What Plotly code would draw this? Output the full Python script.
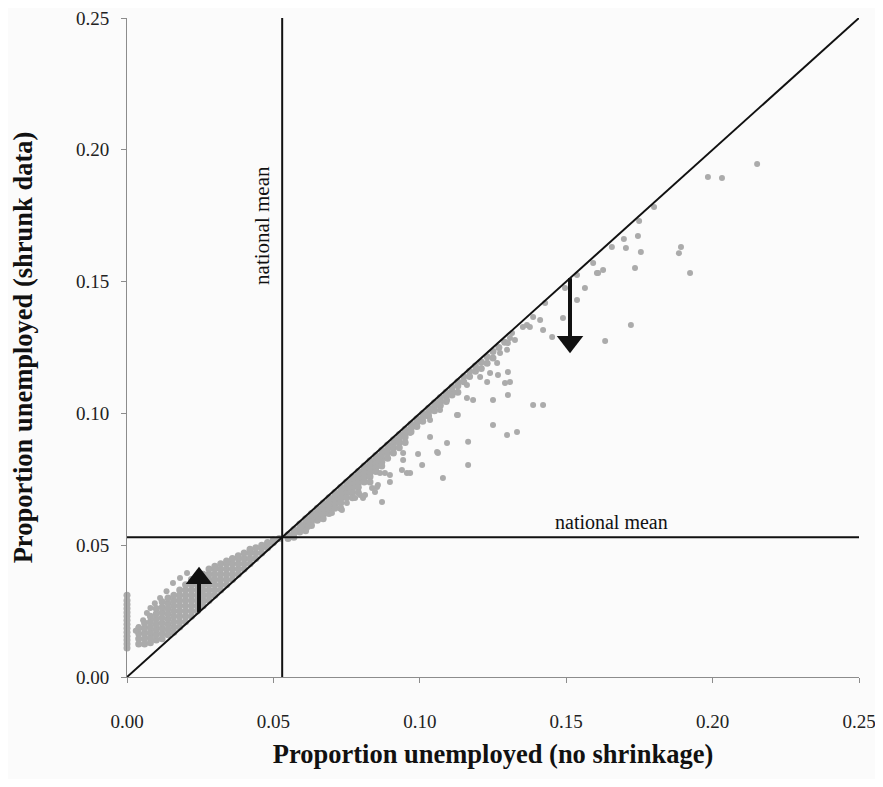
import plotly.graph_objects as go

# ---------------- data ----------------
NATIONAL_MEAN = 0.053

# points sitting on the y axis (x ~ 0)
AXIS_COLUMN_Y = [0.011, 0.0125, 0.014, 0.0155, 0.017, 0.0185, 0.020, 0.0215,
                 0.023, 0.0245, 0.026, 0.0275, 0.029, 0.031]

# below-mean areas: columns of the dense band (x, [y values])
LOW_BAND = [
    (0.004, [0.0125, 0.0145, 0.0165, 0.0185]),
    (0.006, [0.0125, 0.0145, 0.0165, 0.0185, 0.0205]),
    (0.008, [0.013, 0.015, 0.017, 0.019, 0.021, 0.023]),
    (0.010, [0.014, 0.016, 0.018, 0.020, 0.022, 0.024, 0.026]),
    (0.012, [0.0145, 0.0165, 0.0185, 0.0205, 0.0225, 0.0245, 0.0265, 0.0285]),
    (0.014, [0.016, 0.018, 0.020, 0.022, 0.024, 0.026, 0.028, 0.030]),
    (0.016, [0.017, 0.019, 0.021, 0.023, 0.025, 0.027, 0.029, 0.031]),
    (0.018, [0.019, 0.021, 0.023, 0.025, 0.027, 0.029, 0.031, 0.033]),
    (0.020, [0.021, 0.023, 0.025, 0.027, 0.029, 0.031, 0.033, 0.035]),
    (0.022, [0.023, 0.025, 0.027, 0.029, 0.031, 0.033, 0.035, 0.037]),
    (0.024, [0.025, 0.027, 0.029, 0.031, 0.033, 0.035, 0.037, 0.0385]),
    (0.026, [0.027, 0.029, 0.031, 0.033, 0.035, 0.037, 0.039]),
    (0.028, [0.029, 0.031, 0.033, 0.035, 0.037, 0.039, 0.041]),
    (0.030, [0.031, 0.033, 0.035, 0.037, 0.039, 0.041, 0.042]),
    (0.032, [0.033, 0.035, 0.037, 0.039, 0.041, 0.043]),
    (0.034, [0.035, 0.037, 0.039, 0.041, 0.043, 0.044]),
    (0.036, [0.037, 0.039, 0.041, 0.043, 0.045]),
    (0.038, [0.039, 0.041, 0.043, 0.045, 0.046]),
    (0.040, [0.041, 0.043, 0.045, 0.047]),
    (0.042, [0.043, 0.045, 0.047, 0.0485]),
    (0.044, [0.045, 0.047, 0.049]),
    (0.046, [0.047, 0.049, 0.050]),
    (0.048, [0.049, 0.0505, 0.051]),
    (0.050, [0.051, 0.052]),
    (0.052, [0.0525]),
]

# the looser outer edge of the below-mean cloud
LOW_EDGE_X = [0.003, 0.004, 0.0055, 0.0068, 0.008, 0.0095, 0.0113, 0.0135, 0.0157, 0.0181, 0.0205]
LOW_EDGE_Y = [0.0175, 0.019, 0.0215, 0.0243, 0.0262, 0.028, 0.030, 0.0325, 0.0357, 0.0376, 0.0395]

# above-mean areas: columns of the dense band just under the diagonal
HIGH_BAND = [
    (0.055, [0.054, 0.0525]),
    (0.057, [0.056, 0.0545, 0.053]),
    (0.059, [0.058, 0.0565, 0.055]),
    (0.061, [0.060, 0.0585, 0.057, 0.0555]),
    (0.063, [0.062, 0.0605, 0.059, 0.0575]),
    (0.065, [0.064, 0.0625, 0.061, 0.0595]),
    (0.067, [0.066, 0.0645, 0.063, 0.0615, 0.060]),
    (0.069, [0.068, 0.0665, 0.065, 0.0635, 0.062]),
    (0.071, [0.070, 0.0685, 0.067, 0.0655, 0.064]),
    (0.073, [0.072, 0.0705, 0.069, 0.0675, 0.066, 0.064]),
    (0.075, [0.074, 0.0725, 0.071, 0.0695, 0.068]),
    (0.077, [0.076, 0.0745, 0.073, 0.0715, 0.070, 0.068]),
    (0.079, [0.078, 0.0765, 0.075, 0.0735, 0.072, 0.070]),
    (0.081, [0.080, 0.0785, 0.077, 0.0755, 0.074]),
    (0.083, [0.082, 0.0805, 0.079, 0.0775, 0.076, 0.074]),
    (0.085, [0.084, 0.0825, 0.081, 0.0795, 0.078]),
    (0.087, [0.086, 0.0845, 0.083, 0.0815, 0.080]),
    (0.089, [0.088, 0.0865, 0.085, 0.083]),
    (0.091, [0.090, 0.0885, 0.087, 0.085]),
    (0.093, [0.092, 0.0905, 0.089, 0.087]),
    (0.095, [0.094, 0.0925, 0.091, 0.089]),
    (0.097, [0.096, 0.0945, 0.093]),
    (0.099, [0.098, 0.0965, 0.095]),
    (0.101, [0.100, 0.0985, 0.097]),
    (0.103, [0.102, 0.1005, 0.099]),
    (0.105, [0.104, 0.1025, 0.101]),
    (0.107, [0.106, 0.1045, 0.103]),
    (0.109, [0.108, 0.1065, 0.1045]),
    (0.111, [0.110, 0.1085, 0.107]),
    (0.113, [0.112, 0.1105, 0.108]),
    (0.115, [0.114, 0.112]),
    (0.117, [0.116, 0.114]),
    (0.119, [0.118, 0.116]),
    (0.121, [0.1195, 0.117]),
    (0.123, [0.1215, 0.119]),
    (0.125, [0.1235, 0.121]),
    (0.127, [0.125]),
    (0.129, [0.127]),
]

# scattered points below the diagonal (mostly small areas with high rates)
SCATTER_X = [0.0574, 0.0618, 0.0652, 0.0700, 0.0734, 0.0751, 0.0779, 0.0796, 0.0806,
             0.0837, 0.0857, 0.0871, 0.0847, 0.0898, 0.0898, 0.0939, 0.0943, 0.0881,
             0.0813, 0.0864, 0.0854, 0.0943, 0.0994, 0.1062, 0.1008, 0.1165, 0.0956,
             0.0967, 0.1079, 0.1035, 0.1059,
             0.0967, 0.1035, 0.1069, 0.1093, 0.1130, 0.1161, 0.1161, 0.1182, 0.1206,
             0.1230, 0.1240, 0.1267, 0.1250, 0.1301, 0.1308, 0.1291, 0.1301, 0.1250,
             0.1298, 0.1332, 0.1264, 0.1298, 0.1301, 0.1315, 0.1325, 0.1352, 0.1366,
             0.1387, 0.1421, 0.1165, 0.1093, 0.1127,
             0.1592, 0.1605, 0.1564, 0.1537, 0.1489, 0.1452, 0.1428, 0.1411, 0.1387,
             0.1376, 0.1421, 0.1308, 0.1274, 0.1496, 0.1537, 0.1609, 0.1626,
             0.2152, 0.1984, 0.2032, 0.1800, 0.1749, 0.1697, 0.1745, 0.1656, 0.1704,
             0.1755, 0.1892, 0.1885, 0.1923, 0.1735, 0.1721, 0.1633]
SCATTER_Y = [0.0550, 0.0569, 0.0596, 0.0622, 0.0634, 0.0660, 0.0679, 0.0690, 0.0679,
             0.0717, 0.0728, 0.0664, 0.0702, 0.0740, 0.0766, 0.0785, 0.0823, 0.0774,
             0.0690, 0.0774, 0.0721, 0.0850, 0.0846, 0.0850, 0.0804, 0.0804, 0.0774,
             0.0774, 0.0755, 0.0910, 0.0854,
             0.0926, 0.0975, 0.1013, 0.1051, 0.0994, 0.1058, 0.1108, 0.1051, 0.1138,
             0.1119, 0.1153, 0.1146, 0.1051, 0.1157, 0.1119, 0.1115, 0.1070, 0.0956,
             0.0918, 0.0929, 0.1191, 0.1241, 0.1267, 0.1305, 0.1278, 0.1328, 0.1335,
             0.1032, 0.1032, 0.0892, 0.0888, 0.0994,
             0.1571, 0.1533, 0.1476, 0.1430, 0.1362, 0.1290, 0.1419, 0.1354, 0.1366,
             0.1328, 0.1316, 0.1286, 0.1229, 0.1476, 0.1525, 0.1533, 0.1544,
             0.1946, 0.1897, 0.1893, 0.1783, 0.1730, 0.1662, 0.1673, 0.1631, 0.1627,
             0.1612, 0.1631, 0.1608, 0.1533, 0.1552, 0.1335, 0.1275]

# arrows: (x position, start on the diagonal, tip)
UP_ARROW = (0.0246, 0.0246, 0.0418)
DOWN_ARROW = (0.1513, 0.1513, 0.1228)

TICKS = [0.0, 0.05, 0.10, 0.15, 0.20, 0.25]
TICK_TEXT = ["0.00", "0.05", "0.10", "0.15", "0.20", "0.25"]
AX_MAX = 0.25

# ---------------- assemble ----------------
band_x, band_y = [], []
for y in AXIS_COLUMN_Y:
    band_x.append(0.0); band_y.append(y)
for band in (LOW_BAND, HIGH_BAND):
    for x, col in band:
        for y in col:
            band_x.append(x); band_y.append(y)

SERIF = "Liberation Serif, Times New Roman, serif"
BG = "#fbfbfb"
INK = "#111111"
DOT = "#ababab"

# page offset of the browser body (8px) is compensated by the figure size
FIG_W, FIG_H = 867, 771
M_L, M_R, M_T, M_B = 119, 16, 10, 102
PLOT_H = FIG_H - M_T - M_B
HEAD_SIZE = 23                                   # triangle marker size (px)
HEAD_OFFSET = (HEAD_SIZE / 2) * AX_MAX / PLOT_H  # tip -> marker centre, in data units

fig = go.Figure()
fig.add_trace(go.Scatter(
    x=band_x, y=band_y, mode="markers",
    marker=dict(color=DOT, size=7, line=dict(width=0)),
    cliponaxis=False, showlegend=False, hoverinfo="skip"))
fig.add_trace(go.Scatter(
    x=LOW_EDGE_X + SCATTER_X, y=LOW_EDGE_Y + SCATTER_Y, mode="markers",
    marker=dict(color=DOT, size=6, line=dict(width=0)),
    cliponaxis=False, showlegend=False, hoverinfo="skip"))

line_style = dict(color=INK, width=2)
fig.add_shape(type="line", xref="x", yref="y", x0=0, y0=0, x1=AX_MAX, y1=AX_MAX, line=line_style)
fig.add_shape(type="line", xref="x", yref="y", x0=NATIONAL_MEAN, y0=0, x1=NATIONAL_MEAN, y1=AX_MAX, line=line_style)
fig.add_shape(type="line", xref="x", yref="y", x0=0, y0=NATIONAL_MEAN, x1=AX_MAX, y1=NATIONAL_MEAN, line=line_style)

# arrows: shaft + triangular head
for (ax_x, y_from, y_to), symbol in ((UP_ARROW, "triangle-up"), (DOWN_ARROW, "triangle-down")):
    sign = 1 if y_to > y_from else -1
    head_y = y_to - sign * HEAD_OFFSET
    fig.add_trace(go.Scatter(x=[ax_x, ax_x], y=[y_from, head_y], mode="lines",
                             line=dict(color=INK, width=4), showlegend=False, hoverinfo="skip"))
    fig.add_trace(go.Scatter(x=[ax_x], y=[head_y], mode="markers",
                             marker=dict(symbol=symbol, size=HEAD_SIZE, color=INK, line=dict(width=0)),
                             showlegend=False, hoverinfo="skip", cliponaxis=False))

fig.add_annotation(x=0.1653, y=NATIONAL_MEAN, xref="x", yref="y", text="national mean",
                   showarrow=False, yanchor="bottom", yshift=2,
                   font=dict(family=SERIF, size=20, color=INK))
fig.add_annotation(x=0.0461, y=0.1715, xref="x", yref="y", text="national mean",
                   showarrow=False, textangle=-90,
                   font=dict(family=SERIF, size=21, color=INK))

axis_common = dict(
    range=[0, AX_MAX], tickvals=TICKS, ticktext=TICK_TEXT,
    showgrid=False, zeroline=False, showline=True, linecolor="#8c8c8c", linewidth=1,
    ticks="outside", ticklen=5, tickcolor="#8c8c8c", tickwidth=1,
    tickfont=dict(family=SERIF, size=19, color="#222222"),
    ticklabeloverflow="allow",
    fixedrange=True,
)
fig.update_xaxes(**axis_common, ticklabelstandoff=22,
                 title=dict(text="<b>Proportion unemployed (no shrinkage)</b>",
                            font=dict(family=SERIF, size=26.5, color=INK), standoff=13))
fig.update_yaxes(**axis_common, ticklabelstandoff=8,
                 title=dict(text="<b>Proportion unemployed (shrunk data)</b>",
                            font=dict(family=SERIF, size=26.5, color=INK), standoff=46))

fig.update_layout(
    width=FIG_W, height=FIG_H,
    margin=dict(l=M_L, r=M_R, t=M_T, b=M_B, autoexpand=False),
    paper_bgcolor=BG, plot_bgcolor=BG,
    showlegend=False,
)

fig.write_html("out.html")
